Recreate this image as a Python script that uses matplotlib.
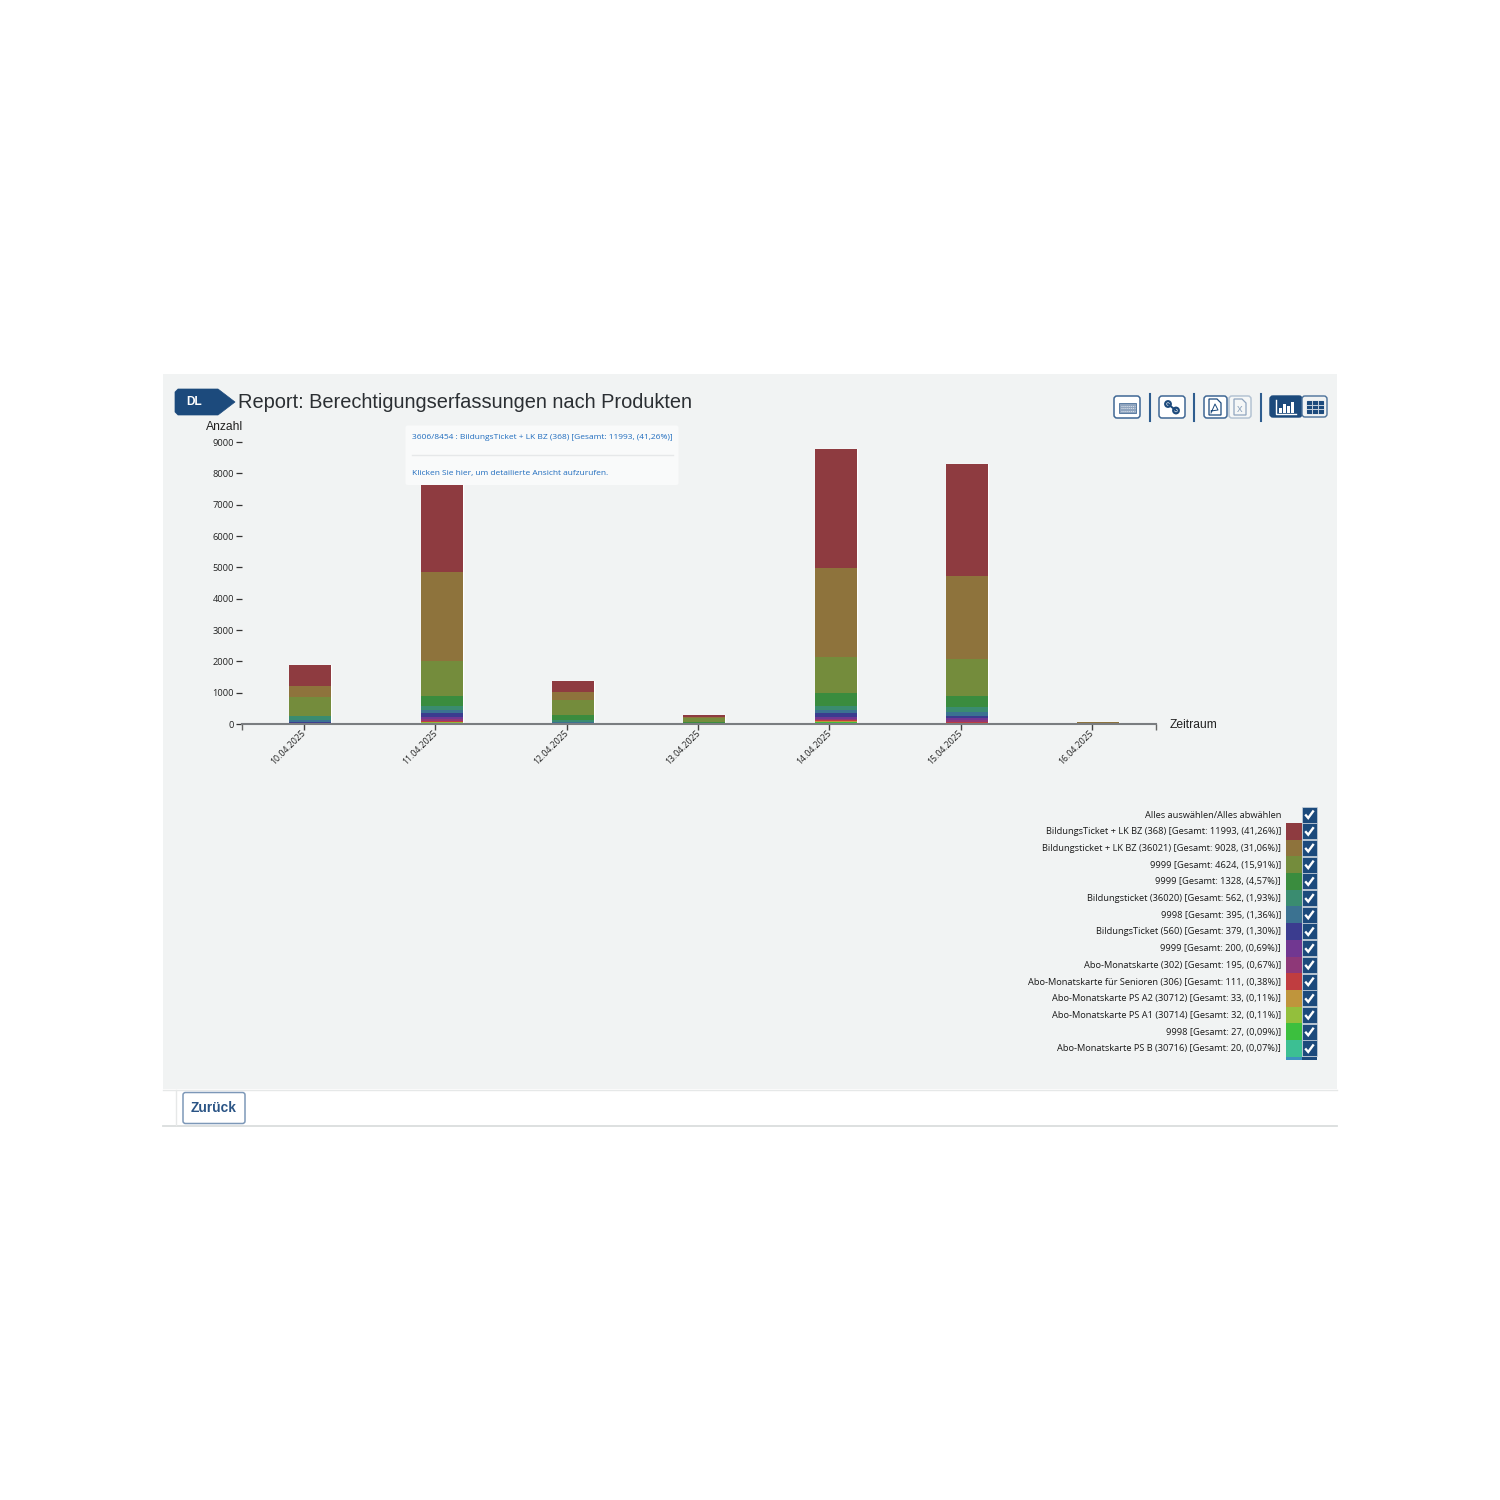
import numpy as np
import matplotlib
matplotlib.use("Agg")
import matplotlib.pyplot as plt
from matplotlib.patches import Rectangle, FancyBboxPatch, Polygon, Circle
from matplotlib.transforms import ScaledTranslation

dates = ["10.04.2025", "11.04.2025", "12.04.2025", "13.04.2025", "14.04.2025", "15.04.2025", "16.04.2025"]
yticks = [0, 1000, 2000, 3000, 4000, 5000, 6000, 7000, 8000, 9000]

s01 = [670, 3606, 360, 75, 3798, 3574, 0]
s02 = [360, 2840, 240, 30, 2840, 2650, 58]
s03 = [585, 1114, 490, 125, 1150, 1165, 0]
s04 = [30, 330, 160, 40, 410, 378, 0]
s05 = [112, 120, 50, 10, 130, 150, 0]
s06 = [60, 90, 30, 5, 115, 120, 0]
s07 = [40, 115, 25, 4, 115, 80, 0]
s08 = [15, 70, 8, 2, 55, 50, 0]
s09 = [10, 70, 5, 2, 53, 55, 0]
s10 = [3, 30, 3, 1, 40, 34, 0]
s11 = [0, 3, 0, 0, 5, 40, 0]
s12 = [0, 60, 0, 0, 2, 2, 0]
s13 = [0, 0, 0, 0, 60, 0, 0]
s14 = [0, 5, 0, 0, 15, 0, 0]
series = [s01, s02, s03, s04, s05, s06, s07, s08, s09, s10, s11, s12, s13, s14]

colors = ["#8E3B40", "#8E733C", "#748C3C", "#3A8C3E", "#3A8C70", "#3B7291", "#3B3C8F",
          "#713791", "#8E3878", "#C03D40", "#BF953C", "#93BF3C", "#3CBF3E", "#3CBF93"]
clipped_color = "#3C93BF"

legend_select = "Alles auswählen/Alles abwählen"
legend_labels = [
    "BildungsTicket + LK BZ (368) [Gesamt: 11993, (41,26%)]",
    "Bildungsticket + LK BZ (36021) [Gesamt: 9028, (31,06%)]",
    "9999 [Gesamt: 4624, (15,91%)]",
    "9999 [Gesamt: 1328, (4,57%)]",
    "Bildungsticket (36020) [Gesamt: 562, (1,93%)]",
    "9998 [Gesamt: 395, (1,36%)]",
    "BildungsTicket (560) [Gesamt: 379, (1,30%)]",
    "9999 [Gesamt: 200, (0,69%)]",
    "Abo-Monatskarte (302) [Gesamt: 195, (0,67%)]",
    "Abo-Monatskarte für Senioren (306) [Gesamt: 111, (0,38%)]",
    "Abo-Monatskarte PS A2 (30712) [Gesamt: 33, (0,11%)]",
    "Abo-Monatskarte PS A1 (30714) [Gesamt: 32, (0,11%)]",
    "9998 [Gesamt: 27, (0,09%)]",
    "Abo-Monatskarte PS B (30716) [Gesamt: 20, (0,07%)]",
]

title = "Report: Berechtigungserfassungen nach Produkten"
tooltip_1 = "3606/8454 : BildungsTicket + LK BZ (368) [Gesamt: 11993, (41,26%)]"
tooltip_2 = "Klicken Sie hier, um detailierte Ansicht aufzurufen."

NAVY = "#1C4A7C"
W = H = 1500
fig = plt.figure(figsize=(15, 15), dpi=100, facecolor="white")


def overlay(z):
    a = fig.add_axes([0, 0, 1, 1], zorder=z)
    a.set_xlim(0, W)
    a.set_ylim(H, 0)
    a.axis("off")
    a.patch.set_alpha(0)
    return a


bg = overlay(0)
top = overlay(5)

# panel
bg.add_patch(Rectangle((163, 374), 1174, 715, fc="#F1F3F3", ec="none"))
bg.plot([163, 1337], [1089.5, 1089.5], color="#E6E8E8", lw=1)
bg.plot([163, 1337], [1126, 1126], color="#DADDDD", lw=1.3)
bg.plot([176, 176], [1090, 1125], color="#E6E8E8", lw=1)

# button
bg.add_patch(FancyBboxPatch((183, 1092.5), 62, 31, boxstyle="round,pad=0,rounding_size=2.5",
                            fc="white", ec="#7D98B8", lw=1.1))
bg.text(214, 1108, "Zurück", family="Liberation Sans", fontweight="bold", fontsize=9.9,
        color="#2A5485", ha="center", va="center")

# tag + title
bg.add_patch(Polygon([(178, 389), (218, 389), (235, 402), (218, 415), (178, 415), (175, 412), (175, 392)],
                     closed=True, fc=NAVY, ec=NAVY, lw=0.5, joinstyle="round"))
bg.text(194.5, 402, "DL", family="Liberation Sans", fontweight="bold", fontsize=8.6, color="white",
        ha="center", va="center")
bg.text(238, 402.5, title, family="Liberation Sans", fontsize=14.4, color="#2B2F33", ha="left", va="center")


# toolbar
def btn(x0, x1, alpha=1.0, fill="white"):
    bg.add_patch(FancyBboxPatch((x0, 396), x1 - x0, 22, boxstyle="round,pad=0,rounding_size=3",
                                fc=fill, ec="#3F6794", lw=1.1, alpha=alpha))


btn(1114, 1140)
bg.add_patch(Rectangle((1119, 403), 17, 10, fc="#8FA4BE", ec="#4A7099", lw=0.6))
for yy in (405.5, 408, 410.5):
    bg.plot([1120.5, 1134.5], [yy, yy], color="#E3E9F0", lw=0.7, ls=(0, (1, 1)))
for xs in (1150, 1194, 1261):
    bg.plot([xs, xs], [394, 420.5], color="#2F5D8F", lw=1.5)
btn(1159, 1185)
bg.plot([1168, 1176], [404, 410.5], color=NAVY, lw=1.4)
bg.add_patch(Circle((1168, 404), 2.8, fc="white", ec=NAVY, lw=1.6))
bg.add_patch(Circle((1176, 410.5), 2.8, fc="white", ec=NAVY, lw=1.6))
btn(1204, 1227)
bg.add_patch(Polygon([(1209, 399), (1217, 399), (1221, 403), (1221, 415), (1209, 415)], closed=True,
                     fc="white", ec=NAVY, lw=0.9))
bg.plot([1211, 1215, 1218, 1211], [413, 404, 410, 411], color=NAVY, lw=0.7)
btn(1229, 1251, alpha=0.35)
bg.add_patch(Polygon([(1234, 399), (1242, 399), (1246, 403), (1246, 415), (1234, 415)], closed=True,
                     fc="none", ec="#8FA5BE", lw=0.9))
bg.text(1240, 409, "x", family="Liberation Sans", fontsize=8, color="#8FA5BE", ha="center", va="center")
bg.add_patch(FancyBboxPatch((1270, 396), 32, 21, boxstyle="round,pad=0,rounding_size=3", fc=NAVY, ec=NAVY, lw=1))
bg.add_patch(FancyBboxPatch((1302, 396), 25, 21, boxstyle="round,pad=0,rounding_size=3", fc="#F1F3F3", ec="#4A7099", lw=1))
bg.plot([1276, 1276, 1296], [400, 413.5, 413.5], color="white", lw=1)
for xb, yb in zip((1279, 1283, 1287, 1291), (408, 404, 406, 402)):
    bg.add_patch(Rectangle((xb, yb), 2.6, 413 - yb, fc="white", ec="none"))
bg.add_patch(Rectangle((1307, 401), 16, 12, fc=NAVY, ec=NAVY, lw=0.8))
for yy in (404.8, 408.6):
    bg.plot([1307, 1323], [yy, yy], color="#C5D0DC", lw=0.7)
for xx in (1312.3, 1317.6):
    bg.plot([xx, xx], [401, 413], color="#C5D0DC", lw=0.7)

# chart
ax = fig.add_axes([242 / W, 1 - 724 / H, (1156 - 242) / W, (724 - 442) / H], zorder=2)
ax.patch.set_alpha(0)
x = np.arange(len(dates))
band = 131.3
ax.set_xlim((242 - 304) / band, (1156 - 304) / band)
ax.set_ylim(0, 9000)
offset = 6.4 / band
bar_w = 42 / band
arr = np.array(series, dtype=float)
totals = arr.sum(axis=0)
ax.bar(x + offset, totals, bar_w, color="none", edgecolor="#FFFFFF", lw=1.0, zorder=1, clip_on=False)
base = np.zeros(len(dates))
for vals, col in reversed(list(zip(arr, colors))):
    ax.bar(x + offset, vals, bar_w, bottom=base, color=col, edgecolor="none", zorder=2)
    base += vals

for s in ("top", "right", "left"):
    ax.spines[s].set_visible(False)
ax.spines["bottom"].set_color("#7A7D80")
ax.spines["bottom"].set_linewidth(1.5)
ax.set_yticks(yticks)
ax.set_yticklabels([str(v) for v in yticks], family="Open Sans", fontsize=6.7, color="#222222")
ax.tick_params(axis="y", length=4.2, width=0.9, color="#333333", pad=1.5)
ax.set_xticks(x)
ax.set_xticklabels(dates, family="Open Sans", fontsize=6.3, color="#222222", rotation=45,
                   ha="right", va="top", rotation_mode="anchor")
ax.tick_params(axis="x", length=4, width=1, color="#444444", pad=2.5)
shift = ScaledTranslation(-2.5 / 100, 4.5 / 100, fig.dpi_scale_trans)
for lab in ax.get_xticklabels():
    lab.set_transform(lab.get_transform() + shift)
ax.set_xticks(ax.get_xlim(), minor=True)
ax.tick_params(axis="x", which="minor", length=4, width=1, color="#666666")

bg.text(243, 426.5, "Anzahl", family="Liberation Sans", fontsize=8.7, color="#222222", ha="right", va="center")
bg.text(1170, 724.5, "Zeitraum", family="Liberation Sans", fontsize=8.7, color="#222222", ha="left", va="center")

# legend
row0, step = 814.5, 16.71
FS = 6.7
TY = 0.5


def check(a, yc):
    a.add_patch(Rectangle((1302, yc - 8), 15, 16, fc=NAVY, ec="#C9D2DC", lw=0.5))
    a.plot([1305.2, 1308.2, 1313.7], [yc, yc + 3.5, yc - 4], color="white", lw=1.7,
           solid_joinstyle="miter", solid_capstyle="butt")


bg.text(1281, row0 + TY, legend_select, family="Open Sans", fontsize=FS, color="#1A1A1A", ha="right", va="center")
check(bg, row0)
for i, (lab, col) in enumerate(zip(legend_labels, colors), start=1):
    yc = row0 + i * step
    bg.text(1281, yc + TY, lab, family="Open Sans", fontsize=FS, color="#1A1A1A", ha="right", va="center")
    bg.add_patch(Rectangle((1286, yc - step / 2), 16, step, fc=col, ec="none"))
    check(bg, yc)
yc = row0 + 15 * step
bg.add_patch(Rectangle((1286, yc - 8), 16, 3, fc=clipped_color, ec="none"))
bg.add_patch(Rectangle((1302, yc - 8), 15, 3, fc=NAVY, ec="none"))

# tooltip
top.add_patch(FancyBboxPatch((405.5, 425.5), 273, 59.5, boxstyle="round,pad=0,rounding_size=2",
                             fc="#F9FAFA", ec="none"))
top.text(411.5, 437.5, tooltip_1, family="Open Sans", fontsize=6.05, color="#1F6CBE", ha="left", va="center")
top.plot([411.5, 672.5], [455, 455], color="#E6E8E9", lw=1)
top.text(411.5, 473, tooltip_2, family="Open Sans", fontsize=6.05, color="#1F6CBE", ha="left", va="center")

fig.savefig("out.png", dpi=100)
